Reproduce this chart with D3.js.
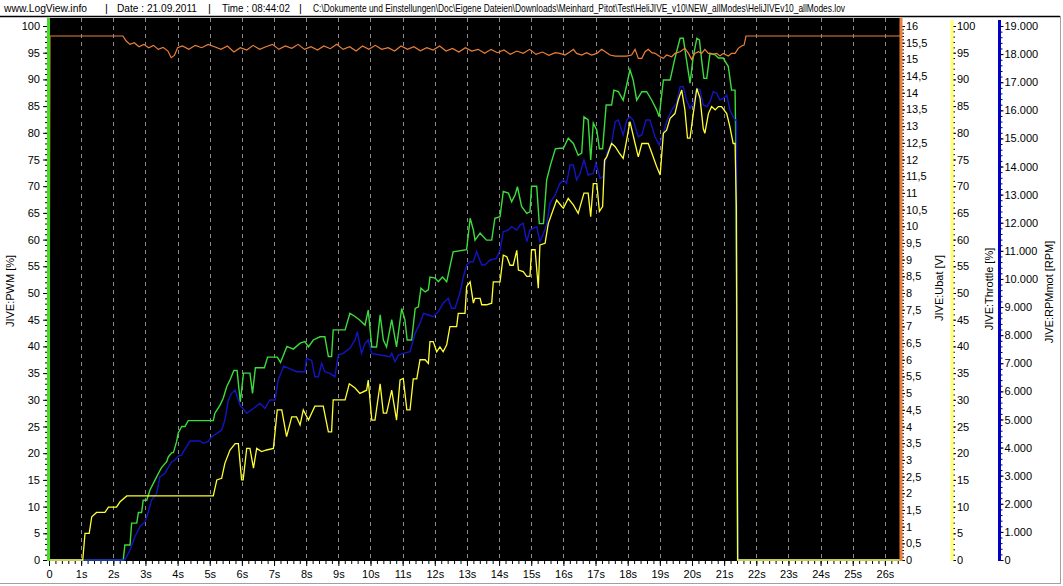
<!DOCTYPE html>
<html><head><meta charset="utf-8">
<script src="https://cdn.jsdelivr.net/npm/d3@7"></script>
<style>
body{margin:0;background:#fff;}
text{font-family:"Liberation Sans",Arial,sans-serif;font-size:11px;fill:#000;}
</style>
</head><body>
<svg id="c" width="1063" height="586"></svg>
<script>
// ---------- DATA ----------
const headerParts = [
  "www.LogView.info", "|", "Date : 21.09.2011", "|", "Time : 08:44:02", "|",
  "C:\\Dokumente und Einstellungen\\Doc\\Eigene Dateien\\Downloads\\Meinhard_Pitot\\Test\\HeliJIVE_v10\\NEW_allModes\\HeliJIVEv10_allModes.lov"
];
const timeTicks = d3.range(0, 27);           // seconds
const pctTicks = d3.range(0, 101, 5);
const voltTicks = d3.range(0, 16.01, 0.5);
const rpmTicks = d3.range(0, 19001, 1000);
const axisTitles = ["JIVE:PWM [%]", "JIVE:Ubat [V]", "JIVE:Throttle [%]", "JIVE:RPMmot [RPM]"];

// [time s, PWM %]
const pwmSeries = [[0,0],[2.31,0],[2.36,2.8],[2.52,2.8],[2.57,6.9],[2.73,6.9],[2.78,8.9],[2.88,8.9],[2.93,11.2],[3.04,11.2],[3.14,13.1],[3.30,15.0],[3.40,16.2],[3.50,17.3],[3.66,18.4],[3.71,19.3],[3.82,20.1],[3.87,20.1],[3.97,22.2],[4.02,23.8],[4.13,25.0],[4.23,25.0],[4.33,26.1],[5.11,26.1],[5.16,27.5],[5.32,29.0],[5.42,30.3],[5.53,32.5],[5.63,33.7],[5.75,35.5],[5.85,35.5],[5.95,29.6],[6.05,35.0],[6.25,35.0],[6.33,31.2],[6.42,36.0],[6.70,36.0],[6.80,38.0],[7.10,38.0],[7.20,37.0],[7.40,40.0],[7.60,39.5],[7.81,40.6],[7.96,40.9],[8.07,39.9],[8.22,41.2],[8.43,41.8],[8.58,41.8],[8.69,38.1],[8.79,38.1],[8.84,43.1],[9.21,43.1],[9.36,46.2],[9.52,45.6],[9.67,44.9],[9.83,44.0],[9.93,46.8],[10.04,39.9],[10.19,39.9],[10.30,45.9],[10.40,41.2],[10.50,39.9],[10.66,45.0],[10.81,39.9],[10.97,47.1],[11.07,45.0],[11.14,41.2],[11.28,41.2],[11.39,47.1],[11.49,47.4],[11.57,50.9],[11.70,50.2],[11.80,50.6],[11.85,53.0],[12.01,52.8],[12.11,52.1],[12.24,53.0],[12.37,52.1],[12.47,54.9],[12.57,57.7],[12.99,58.1],[13.10,64.0],[13.20,61.8],[13.25,59.9],[13.41,61.2],[13.61,59.9],[13.77,59.9],[13.87,64.0],[14.03,64.3],[14.13,69.0],[14.29,68.7],[14.39,67.1],[14.50,68.4],[14.57,69.9],[14.70,66.2],[14.86,64.9],[14.96,65.2],[15.01,70.0],[15.17,70.0],[15.25,63.0],[15.38,63.0],[15.48,71.2],[15.60,74.0],[15.75,77.0],[15.89,77.1],[16.00,77.1],[16.15,79.0],[16.31,78.0],[16.46,75.8],[16.57,76.2],[16.64,83.0],[16.77,82.4],[16.85,74.9],[16.93,81.8],[17.04,80.5],[17.12,77.0],[17.22,77.0],[17.33,85.2],[17.50,85.2],[17.57,88.0],[17.71,87.7],[17.86,86.1],[17.97,89.0],[18.07,91.8],[18.17,89.9],[18.28,86.1],[18.44,87.7],[18.59,87.7],[18.75,86.1],[18.90,84.3],[18.98,83.0],[19.11,89.9],[19.32,89.9],[19.47,94.0],[19.63,97.7],[19.73,97.7],[19.83,93.6],[19.94,89.3],[20.04,94.3],[20.15,97.7],[20.23,97.4],[20.30,93.6],[20.37,90.2],[20.46,90.2],[20.56,94.9],[20.72,94.6],[20.82,94.0],[20.97,94.0],[21.13,92.4],[21.23,88.0],[21.34,88.0],[21.37,74.0],[21.42,0],[26.47,0]];

// [time s, RPM]
const rpmSeries = [[0,0],[2.36,0],[2.52,356],[2.67,830],[2.83,1185],[2.99,1363],[3.09,1718],[3.19,2135],[3.35,2373],[3.45,2964],[3.61,3085],[3.71,3298],[3.82,3497],[3.92,3558],[4.02,3700],[4.13,3736],[4.18,3853],[4.28,4031],[4.39,4234],[4.70,4234],[4.80,4152],[4.95,4210],[5.06,4388],[5.22,4508],[5.37,4625],[5.47,4981],[5.58,5693],[5.68,5931],[5.79,6049],[5.94,5515],[6.15,5220],[6.36,5397],[6.56,5575],[6.72,5397],[6.87,5693],[7.03,5693],[7.13,6404],[7.30,6900],[7.50,6800],[7.70,6700],[7.81,6700],[7.96,6700],[8.01,7176],[8.17,7100],[8.27,6522],[8.38,6522],[8.48,6998],[8.58,6700],[8.74,6641],[8.89,6522],[9.00,7294],[9.15,7354],[9.36,7532],[9.52,7828],[9.59,8123],[9.72,7354],[9.83,7710],[9.93,7828],[10.04,7354],[10.30,7294],[10.61,7233],[10.66,7354],[10.76,7056],[10.87,7294],[11.02,7354],[11.23,7413],[11.39,8065],[11.54,8422],[11.65,8776],[11.80,8717],[11.95,8657],[12.11,8835],[12.26,9134],[12.42,9311],[12.52,8956],[12.63,8956],[12.78,9489],[12.89,10080],[12.99,10496],[13.10,10614],[13.20,10614],[13.30,10970],[13.46,10496],[13.56,10496],[13.72,10674],[13.92,10734],[14.03,11030],[14.13,11681],[14.29,11741],[14.39,11859],[14.55,11741],[14.65,11919],[14.75,11980],[14.86,11325],[14.96,11741],[15.06,11802],[15.17,11859],[15.27,11325],[15.38,11624],[15.48,11919],[15.58,12691],[15.74,12987],[15.89,13400],[16.00,13520],[16.10,13403],[16.21,14054],[16.31,14054],[16.41,13520],[16.52,13758],[16.64,14232],[16.77,13698],[16.93,13758],[17.01,14114],[17.14,13581],[17.24,13638],[17.35,14470],[17.50,14826],[17.61,15595],[17.71,15655],[17.86,15122],[17.97,15655],[18.07,15773],[18.17,15655],[18.33,15061],[18.44,15122],[18.57,15655],[18.69,15655],[18.85,15061],[18.98,14766],[19.11,15182],[19.21,15595],[19.37,16011],[19.52,16249],[19.63,16840],[19.73,16840],[19.83,16367],[19.94,16071],[20.04,16249],[20.15,16782],[20.25,16723],[20.35,16189],[20.46,16130],[20.56,16308],[20.66,16662],[20.77,16604],[20.87,16367],[20.97,16427],[21.08,16545],[21.18,16011],[21.28,15773],[21.34,15655],[21.38,15655],[21.43,0],[26.47,0]];

// [time s, Throttle %]
const throttleSeries = [[0,0],[1.05,0],[1.12,5.0],[1.25,5.0],[1.33,8.1],[1.48,8.9],[1.74,8.9],[1.85,9.9],[2.10,9.9],[2.21,10.9],[2.42,12.0],[5.11,12.0],[5.22,15.0],[5.37,15.3],[5.47,18.1],[5.63,20.6],[5.79,21.8],[5.89,21.8],[5.99,15.0],[6.04,15.0],[6.15,20.9],[6.25,20.9],[6.36,17.2],[6.46,20.9],[6.61,20.3],[6.77,20.6],[6.98,20.9],[7.10,28.1],[7.24,28.1],[7.39,23.1],[7.55,26.8],[7.70,26.8],[7.81,25.3],[7.91,28.1],[8.07,26.2],[8.27,28.8],[8.53,28.8],[8.69,24.0],[8.79,24.0],[8.84,30.0],[9.21,30.0],[9.34,33.0],[9.52,32.2],[9.67,31.2],[9.88,31.8],[9.93,33.7],[10.04,26.2],[10.14,26.2],[10.30,33.0],[10.40,27.5],[10.50,27.5],[10.66,31.8],[10.81,26.2],[10.92,33.7],[11.02,34.0],[11.13,28.1],[11.23,28.1],[11.33,33.9],[11.44,33.9],[11.54,37.5],[11.70,37.5],[11.80,36.8],[11.85,40.9],[11.95,40.9],[12.06,39.0],[12.16,39.9],[12.26,39.0],[12.37,40.3],[12.47,43.7],[12.68,43.7],[12.73,46.2],[12.94,46.2],[12.99,51.2],[13.10,52.1],[13.20,48.1],[13.25,49.0],[13.41,49.0],[13.46,47.8],[13.61,47.8],[13.77,48.1],[13.82,52.1],[14.03,52.1],[14.13,57.1],[14.24,56.8],[14.34,55.2],[14.44,55.2],[14.55,58.0],[14.60,54.3],[14.75,54.0],[14.86,53.1],[14.96,53.1],[15.01,58.1],[15.12,58.1],[15.22,50.9],[15.27,59.0],[15.43,59.3],[15.53,63.0],[15.64,64.9],[15.79,67.4],[15.95,66.2],[16.00,65.9],[16.15,67.7],[16.31,66.5],[16.46,64.9],[16.64,68.7],[16.77,68.7],[16.85,64.3],[16.93,70.5],[17.04,70.5],[17.12,65.3],[17.22,66.2],[17.28,74.9],[17.35,75.5],[17.50,78.0],[17.61,77.4],[17.74,76.2],[17.86,75.2],[17.97,78.7],[18.07,82.1],[18.23,78.0],[18.33,75.5],[18.44,78.0],[18.64,78.0],[18.75,76.2],[18.90,73.7],[19.01,72.1],[19.11,79.9],[19.21,80.5],[19.32,82.7],[19.47,83.6],[19.57,86.1],[19.68,88.0],[19.78,84.3],[19.86,79.0],[19.94,79.0],[20.04,83.6],[20.15,88.3],[20.25,86.5],[20.35,80.8],[20.40,79.9],[20.51,83.6],[20.61,84.9],[20.72,84.3],[20.82,84.9],[20.92,84.9],[21.08,83.6],[21.18,81.1],[21.28,78.0],[21.34,78.0],[21.38,66.0],[21.42,0],[26.47,0]];

// [time s, Ubat V]
const ubatSeries = [[0,3.95],[0.03,15.70],[2.30,15.70],[2.40,15.55],[2.52,15.45],[2.65,15.50],[2.80,15.38],[2.95,15.45],[3.10,15.35],[3.25,15.42],[3.40,15.30],[3.55,15.36],[3.70,15.25],[3.80,15.05],[3.90,15.12],[4.00,15.35],[4.15,15.40],[4.35,15.30],[4.55,15.42],[4.75,15.35],[4.95,15.45],[5.15,15.38],[5.35,15.30],[5.55,15.40],[5.75,15.22],[5.95,15.35],[6.15,15.28],[6.35,15.42],[6.55,15.30],[6.75,15.38],[6.95,15.45],[7.15,15.30],[7.35,15.40],[7.55,15.33],[7.75,15.45],[7.95,15.30],[8.15,15.38],[8.35,15.28],[8.55,15.40],[8.75,15.32],[8.95,15.45],[9.15,15.30],[9.35,15.38],[9.55,15.25],[9.75,15.40],[9.95,15.30],[10.15,15.42],[10.35,15.30],[10.55,15.35],[10.75,15.25],[10.95,15.40],[11.15,15.30],[11.35,15.38],[11.55,15.26],[11.75,15.35],[11.95,15.28],[12.15,15.40],[12.35,15.25],[12.55,15.33],[12.75,15.22],[12.95,15.35],[13.15,15.25],[13.35,15.30],[13.55,15.18],[13.75,15.30],[13.95,15.20],[14.15,15.28],[14.35,15.15],[14.55,15.25],[14.75,15.18],[14.95,15.30],[15.15,15.15],[15.35,15.22],[15.55,15.12],[15.75,15.20],[15.89,15.18],[16.05,15.13],[16.21,15.23],[16.31,15.30],[16.41,15.18],[16.57,15.13],[16.72,15.20],[16.88,15.13],[17.04,15.18],[17.19,15.30],[17.30,15.23],[17.45,15.13],[17.61,15.10],[17.97,15.10],[18.12,15.13],[18.23,15.30],[18.33,15.03],[18.44,15.03],[18.54,15.23],[18.64,15.30],[18.75,15.20],[18.85,15.18],[19.01,15.08],[19.11,15.03],[19.21,15.13],[19.37,15.08],[19.47,15.18],[19.63,15.23],[19.78,15.33],[19.89,15.18],[19.99,15.00],[20.09,15.18],[20.20,15.23],[20.30,15.18],[20.40,15.30],[20.51,15.18],[20.66,15.16],[20.77,15.18],[20.87,15.10],[20.97,15.18],[21.13,15.10],[21.23,15.18],[21.34,15.18],[21.44,15.33],[21.54,15.40],[21.62,15.43],[21.68,15.70],[26.47,15.70]];

// ---------- LAYOUT ----------
const svg = d3.select("#c");
const plotL = 49, plotR = 900, plotT = 18, plotB = 561;
const x = d3.scaleLinear().domain([0, 26.47]).range([plotL, plotR]);
const yPct = d3.scaleLinear().domain([0, 100]).range([560, 26]);
const yVolt = d3.scaleLinear().domain([0, 16]).range([560, 26]);
const yRpm = d3.scaleLinear().domain([0, 19000]).range([560, 26]);
const de = d3.formatLocale({decimal: ",", thousands: ".", grouping: [3], currency: ["", "€"]});
const fmtRpm = de.format(",d");
const fmtVolt = v => Number.isInteger(v) ? String(v) : de.format(".1f")(v);

const colGreen = "#3ddc3d", colBlue = "#1414c4", colYellow = "#ffff33", colOrange = "#ec8038";

// frame
svg.append("line").attr("x1", 0).attr("x2", 1060).attr("y1", 16.5).attr("y2", 16.5).attr("stroke", "#000").attr("stroke-width", 1.5);
svg.append("line").attr("x1", 1060.5).attr("x2", 1060.5).attr("y1", 16).attr("y2", 584).attr("stroke", "#a0a0a0");
svg.append("line").attr("x1", 0).attr("x2", 1061).attr("y1", 583.5).attr("y2", 583.5).attr("stroke", "#a0a0a0");

// header
const headerX = [4, 105, 117, 208, 222, 299, 313];
const headerW = [83, 0, 80, 0, 68, 0, 532];
svg.append("g").selectAll("text").data(headerParts).join("text")
  .attr("x", (d, i) => headerX[i]).attr("y", 12)
  .each(function (d, i) { if (headerW[i]) d3.select(this).attr("textLength", headerW[i]).attr("lengthAdjust", "spacingAndGlyphs"); })
  .text(d => d);

// plot background
svg.append("rect").attr("x", plotL).attr("y", plotT).attr("width", plotR - plotL).attr("height", plotB - plotT).attr("fill", "#000");

// dashed grid
svg.append("g").selectAll("line").data(timeTicks.filter(d => d > 0)).join("line")
  .attr("x1", d => Math.round(x(d)) + 0.5).attr("x2", d => Math.round(x(d)) + 0.5)
  .attr("y1", plotT).attr("y2", plotB)
  .attr("stroke", "#8a8a8a").attr("stroke-dasharray", "4,4");

// series
const line = (ys) => d3.line().x(d => x(d[0])).y(d => ys(d[1]));
const plot = svg.append("g");
plot.append("path").datum(pwmSeries).attr("d", line(yPct)).attr("fill", "none").attr("stroke", colGreen).attr("stroke-width", 1.4);
plot.append("path").datum(rpmSeries).attr("d", line(yRpm)).attr("fill", "none").attr("stroke", colBlue).attr("stroke-width", 1.4);
plot.append("path").datum(throttleSeries).attr("d", line(yPct)).attr("fill", "none").attr("stroke", colYellow).attr("stroke-width", 1.3);
plot.append("path").datum(ubatSeries).attr("d", line(yVolt)).attr("fill", "none").attr("stroke", colOrange).attr("stroke-width", 1.2);

function styleAxis(g) { g.select(".domain").remove(); g.selectAll("text").style("font-size", "11px").attr("fill", "#000"); g.selectAll("line").attr("stroke", "#000"); }

// x axis
svg.append("g").attr("transform", `translate(0,${plotB})`)
  .call(d3.axisBottom(x).tickValues(d3.range(0, 26.47, 0.2)).tickSize(3).tickFormat(""))
  .call(styleAxis);
svg.append("g").attr("transform", `translate(0,${plotB})`)
  .call(d3.axisBottom(x).tickValues(timeTicks).tickSize(5).tickPadding(4).tickFormat(d => d === 0 ? "0" : d + "s"))
  .call(styleAxis);

// left axis (PWM)
svg.append("g").attr("transform", `translate(47,0)`)
  .call(d3.axisLeft(yPct).tickValues(d3.range(0, 101, 1)).tickSize(2).tickFormat(""))
  .call(styleAxis);
svg.append("g").attr("transform", `translate(47,0)`)
  .call(d3.axisLeft(yPct).tickValues(pctTicks).tickSize(4).tickPadding(3))
  .call(styleAxis);
svg.append("line").attr("x1", 48.5).attr("x2", 48.5).attr("y1", plotT).attr("y2", plotB).attr("stroke", "#44dd22").attr("stroke-width", 3);

// orange axis (Ubat)
const oX = 901;
svg.append("g").attr("transform", `translate(${oX + 1},0)`)
  .call(d3.axisRight(yVolt).tickValues(d3.range(0, 16.01, 0.1)).tickSize(2).tickFormat(""))
  .call(styleAxis);
svg.append("g").attr("transform", `translate(${oX + 1},0)`)
  .call(d3.axisRight(yVolt).tickValues(voltTicks).tickSize(3).tickPadding(1).tickFormat(fmtVolt))
  .call(styleAxis);
svg.append("line").attr("x1", oX).attr("x2", oX).attr("y1", plotT).attr("y2", plotB).attr("stroke", colOrange).attr("stroke-width", 3);

// yellow axis (Throttle)
const tX = 952;
svg.append("g").attr("transform", `translate(${tX + 1},0)`)
  .call(d3.axisRight(yPct).tickValues(d3.range(0, 101, 1)).tickSize(2).tickFormat(""))
  .call(styleAxis);
svg.append("g").attr("transform", `translate(${tX + 1},0)`)
  .call(d3.axisRight(yPct).tickValues(pctTicks).tickSize(3).tickPadding(1))
  .call(styleAxis);
svg.append("line").attr("x1", tX).attr("x2", tX).attr("y1", 20).attr("y2", plotB).attr("stroke", "#ffff70").attr("stroke-width", 3);

// blue axis (RPM)
const rX = 999.5;
svg.append("g").attr("transform", `translate(${rX + 1},0)`)
  .call(d3.axisRight(yRpm).tickValues(d3.range(0, 19001, 200)).tickSize(2).tickFormat(""))
  .call(styleAxis);
svg.append("g").attr("transform", `translate(${rX + 1},0)`)
  .call(d3.axisRight(yRpm).tickValues(rpmTicks).tickSize(3).tickPadding(1).tickFormat(fmtRpm))
  .call(styleAxis);
svg.append("line").attr("x1", rX).attr("x2", rX).attr("y1", 20).attr("y2", plotB).attr("stroke", "#0000c8").attr("stroke-width", 3);

// axis titles
const titlePos = [[14, 291], [943, 288], [993, 289], [1053, 292]];
svg.append("g").selectAll("text").data(axisTitles).join("text")
  .attr("transform", (d, i) => `translate(${titlePos[i][0]},${titlePos[i][1]}) rotate(-90)`)
  .attr("text-anchor", "middle").text(d => d);
</script>
</body></html>
